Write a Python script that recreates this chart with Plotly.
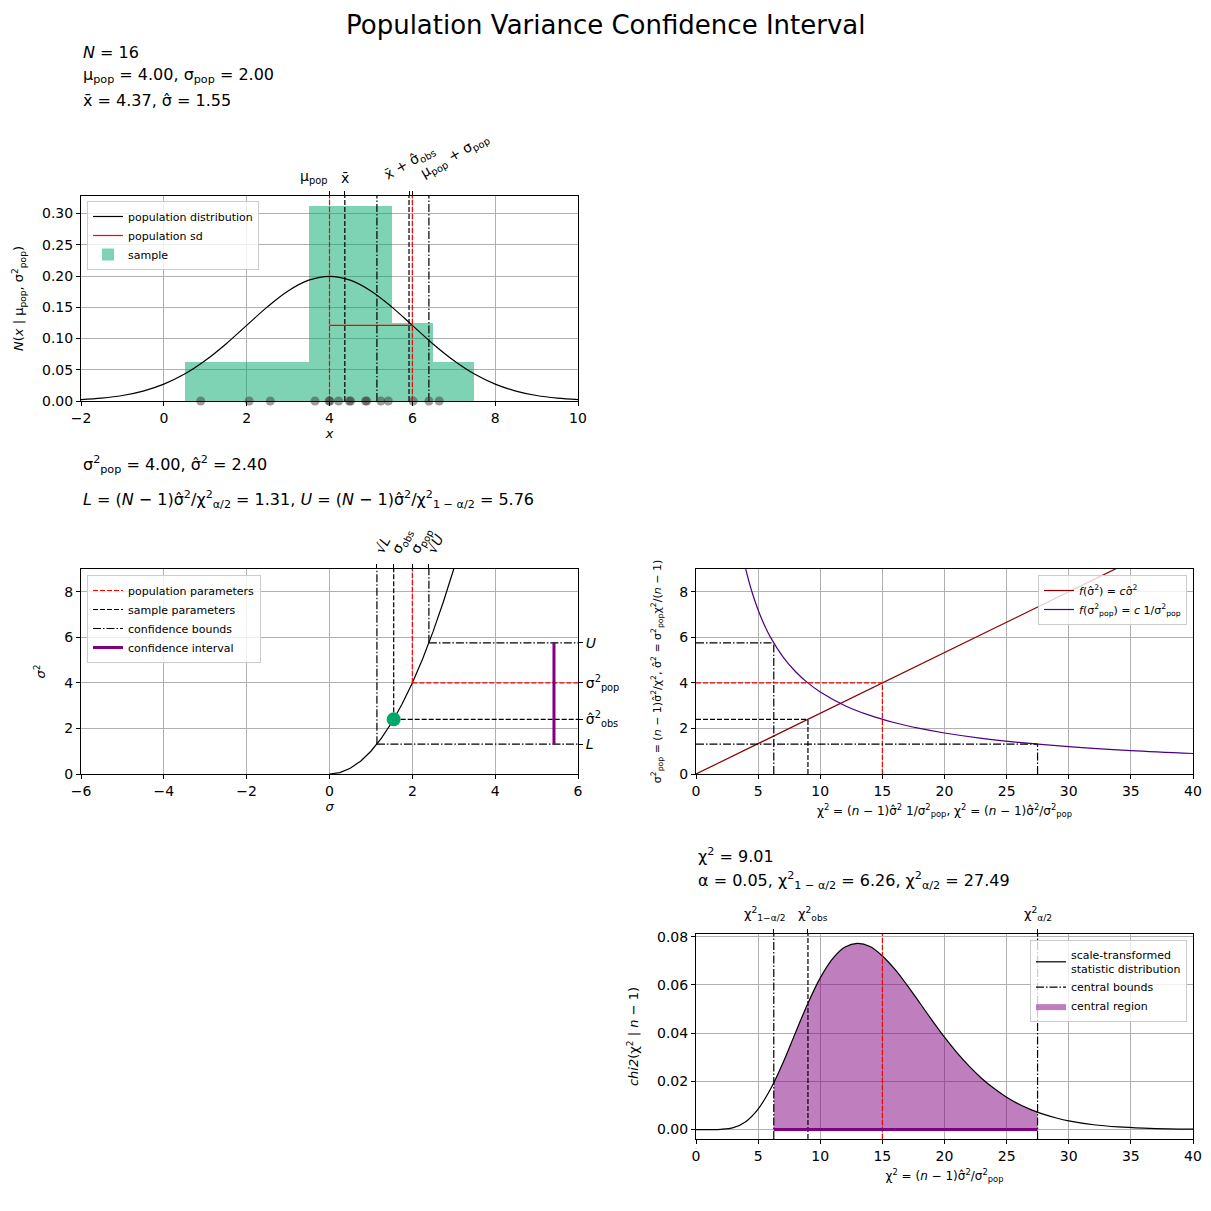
import plotly.graph_objects as go

# summary numbers shown on the chart
N = 16
mu_pop = 4.00
sigma_pop = 2.00
x_bar = 4.37
sigma_obs = 1.55
var_pop = 4.00
var_obs = 2.40
L = 1.31
U = 5.76
sqrt_L = 1.145
sqrt_U = 2.40
alpha = 0.05
chi_obs = 9.01
chi_lo = 6.26
chi_hi = 27.49
chi_pop = 15.0

# panel 1: sample, histogram and population density
samples = [0.89, 2.06, 2.57, 3.65, 3.99, 4.01, 4.22, 4.48, 4.51, 4.87, 4.90, 5.24, 5.42, 6.02, 6.40, 6.65]
hist_centers = [1, 2, 3, 4, 5, 6, 7]
hist_density = [0.0625, 0.0625, 0.0625, 0.3125, 0.3125, 0.125, 0.0625]
norm_x = [-2, -1.5, -1, -0.5, 0, 0.5, 1, 1.5, 2, 2.5, 3, 3.5, 4, 4.5, 5, 5.5, 6, 6.5, 7, 7.5, 8, 8.5, 9, 9.5, 10]
norm_y = [0.0022, 0.0046, 0.0088, 0.0159, 0.0270, 0.0431, 0.0648, 0.0913, 0.1210, 0.1506, 0.1760, 0.1933, 0.1995,
          0.1933, 0.1760, 0.1506, 0.1210, 0.0913, 0.0648, 0.0431, 0.0270, 0.0159, 0.0088, 0.0046, 0.0022]
sd_height = 0.121
bound_x1 = [5.145, 6.40]
p1_ymax = 0.328

# panel 2: sigma^2 against sigma
sig_x = [0, 0.25, 0.5, 0.75, 1, 1.25, 1.5, 1.75, 2, 2.25, 2.5, 2.75, 3]
sig_y = [0, 0.0625, 0.25, 0.5625, 1, 1.5625, 2.25, 3.0625, 4, 5.0625, 6.25, 7.5625, 9]
ci_x = 5.42

# panel 3: line and hyperbola
lin_x = [0, 40]
lin_y = [0, 10.667]
hyp_x = [4, 4.5, 5, 5.5, 6, 7, 8, 9, 10, 12, 14, 16, 18, 20, 23, 26, 30, 35, 40]
hyp_y = [9.0, 8.0, 7.2, 6.545, 6.0, 5.143, 4.5, 4.0, 3.6, 3.0, 2.571, 2.25, 2.0, 1.8, 1.565, 1.385, 1.2, 1.029, 0.9]

# panel 4: chi2 density, n-1 = 15
chi_x = list(range(0, 31)) + [32, 34, 36, 38, 40]
chi_y = [0.0, 0.0000, 0.0001, 0.0008, 0.0033, 0.0085, 0.0168, 0.0277, 0.0401, 0.0523, 0.0629, 0.0709, 0.0757, 0.0772,
         0.0759, 0.0720, 0.0665, 0.0598, 0.0526, 0.0453, 0.0383, 0.0319, 0.0262, 0.0212, 0.0170, 0.0134, 0.0105,
         0.0082, 0.0063, 0.0048, 0.0036, 0.0020, 0.0011, 0.0006, 0.0003, 0.0002]
chi_lo_pdf = 0.0194
chi_hi_pdf = 0.0072
p4_ymin, p4_ymax = -0.0039, 0.0811

region_x = [chi_lo] + [v for v in chi_x if chi_lo < v < chi_hi] + [chi_hi]
region_y = [chi_lo_pdf] + [p for v, p in zip(chi_x, chi_y) if chi_lo < v < chi_hi] + [chi_hi_pdf]

FONT = "DejaVu Sans"
DASH = "5px,2px"
DASHDOT = "8px,2px,1.5px,2px"
GREEN = "rgb(0,168,107)"

# page has an 8px body margin, so work in window pixels and convert
W, H = 1195, 1190


def fx(p):
    return (p - 8) / W


def fy(p):
    return 1 - (p - 8) / H


fig = go.Figure()


def seg(x, y, xa, ya, color="black", dash="solid", width=1.2, name=None, legend=None, rank=None):
    fig.add_trace(go.Scatter(
        x=x, y=y, xaxis=xa, yaxis=ya, mode="lines",
        line=dict(color=color, dash=dash, width=width),
        name=name, showlegend=name is not None, legend=legend,
        legendrank=rank if rank else 1000, hoverinfo="skip"))


# ---- panel 1
fig.add_trace(go.Bar(x=hist_centers, y=hist_density, width=1, xaxis="x", yaxis="y",
                     marker=dict(color="rgba(0,168,107,0.5)", line=dict(width=0)),
                     name="sample", legend="legend", legendrank=3))
fig.add_trace(go.Scatter(x=norm_x, y=norm_y, xaxis="x", yaxis="y", mode="lines",
                         line=dict(color="black", width=1.2, shape="spline"),
                         name="population distribution", legend="legend", legendrank=1))
seg([mu_pop, mu_pop + sigma_pop], [sd_height, sd_height], "x", "y", color="red",
    name="population sd", legend="legend", rank=2)
for v in [mu_pop, mu_pop + sigma_pop]:
    seg([v, v], [0, p1_ymax], "x", "y", color="red", dash=DASH)
for v in [x_bar, x_bar + sigma_obs]:
    seg([v, v], [0, p1_ymax], "x", "y", dash=DASH)
for v in bound_x1:
    seg([v, v], [0, p1_ymax], "x", "y", dash=DASHDOT)
fig.add_trace(go.Scatter(x=samples, y=[0] * len(samples), xaxis="x", yaxis="y", mode="markers",
                         marker=dict(color="rgba(60,60,60,0.5)", size=9, line=dict(width=0)),
                         showlegend=False, hoverinfo="skip", cliponaxis=False))

# ---- panel 2
seg(sig_x, sig_y, "x2", "y2")
seg([sqrt_L, sqrt_L], [L, 9], "x2", "y2", dash=DASHDOT, name="confidence bounds", legend="legend2", rank=3)
seg([sqrt_U, sqrt_U], [U, 9], "x2", "y2", dash=DASHDOT)
seg([sigma_obs, sigma_obs], [var_obs, 9], "x2", "y2", dash=DASH, name="sample parameters", legend="legend2", rank=2)
seg([sigma_pop, sigma_pop], [var_pop, 9], "x2", "y2", color="red", dash=DASH,
    name="population parameters", legend="legend2", rank=1)
seg([sqrt_U, 6], [U, U], "x2", "y2", dash=DASHDOT)
seg([sigma_pop, 6], [var_pop, var_pop], "x2", "y2", color="red", dash=DASH)
seg([sigma_obs, 6], [var_obs, var_obs], "x2", "y2", dash=DASH)
seg([sqrt_L, 6], [L, L], "x2", "y2", dash=DASHDOT)
seg([ci_x, ci_x], [L, U], "x2", "y2", color="purple", width=3, name="confidence interval", legend="legend2", rank=4)
fig.add_trace(go.Scatter(x=[sigma_obs], y=[var_obs], xaxis="x2", yaxis="y2", mode="markers",
                         marker=dict(color=GREEN, size=14), showlegend=False, hoverinfo="skip"))

# ---- panel 3
seg(lin_x, lin_y, "x3", "y3", color="darkred", name="<i>f</i>(σ̂<sup>2</sup>) = <i>c</i>σ̂<sup>2</sup>",
    legend="legend3", rank=1)
fig.add_trace(go.Scatter(x=hyp_x, y=hyp_y, xaxis="x3", yaxis="y3", mode="lines",
                         line=dict(color="indigo", width=1.2, shape="spline"),
                         name="<i>f</i>(σ<sup>2</sup><sub>pop</sub>) = <i>c</i> 1/σ<sup>2</sup><sub>pop</sub>",
                         legend="legend3", legendrank=2, hoverinfo="skip"))
seg([0, chi_lo], [U, U], "x3", "y3", dash=DASHDOT)
seg([chi_lo, chi_lo], [0, U], "x3", "y3", dash=DASHDOT)
seg([0, chi_obs], [var_obs, var_obs], "x3", "y3", dash=DASH)
seg([chi_obs, chi_obs], [0, var_obs], "x3", "y3", dash=DASH)
seg([0, chi_pop], [var_pop, var_pop], "x3", "y3", color="red", dash=DASH)
seg([chi_pop, chi_pop], [0, var_pop], "x3", "y3", color="red", dash=DASH)
seg([0, chi_hi], [L, L], "x3", "y3", dash=DASHDOT)
seg([chi_hi, chi_hi], [0, L], "x3", "y3", dash=DASHDOT)

# ---- panel 4
fig.add_trace(go.Scatter(x=region_x, y=region_y, xaxis="x4", yaxis="y4", mode="lines", fill="tozeroy",
                         fillcolor="rgba(128,0,128,0.5)", line=dict(width=0, shape="spline"),
                         name="central region", legend="legend4", legendrank=3, hoverinfo="skip"))
fig.add_trace(go.Scatter(x=chi_x, y=chi_y, xaxis="x4", yaxis="y4", mode="lines",
                         line=dict(color="black", width=1.2, shape="spline"),
                         name="scale-transformed<br>statistic distribution", legend="legend4", legendrank=1,
                         hoverinfo="skip"))
seg([chi_lo, chi_lo], [p4_ymin, p4_ymax], "x4", "y4", dash=DASHDOT, name="central bounds", legend="legend4", rank=2)
seg([chi_hi, chi_hi], [p4_ymin, p4_ymax], "x4", "y4", dash=DASHDOT)
seg([chi_obs, chi_obs], [p4_ymin, p4_ymax], "x4", "y4", dash=DASH)
seg([chi_pop, chi_pop], [p4_ymin, p4_ymax], "x4", "y4", color="red", dash=DASH)
seg([chi_lo, chi_hi], [0, 0], "x4", "y4", color="purple", width=3)

# invisible anchors so the extra tick axes get drawn
for xa, ya in [("x5", "y"), ("x6", "y2"), ("x2", "y5"), ("x7", "y4")]:
    fig.add_trace(go.Scatter(x=[mu_pop if xa == "x5" else sigma_pop], y=[var_pop if ya == "y5" else 0],
                             xaxis=xa, yaxis=ya, mode="markers", marker=dict(opacity=0),
                             showlegend=False, hoverinfo="skip"))

X_LEFT = [fx(81), fx(578)]
X_RIGHT = [fx(696), fx(1193)]
Y_TOP = [fy(401), fy(196)]
Y_MID = [fy(774), fy(569)]
Y_BOT = [fy(1139), fy(934)]

base = dict(showline=True, mirror=True, linecolor="black", linewidth=1, ticks="outside", ticklen=4,
            tickcolor="black", showgrid=True, gridcolor="#b0b0b0", gridwidth=0.8, zeroline=False,
            tickfont=dict(size=14), automargin=False, fixedrange=True)
title_font = dict(size=13)


def ax(**kw):
    d = dict(base)
    d.update(kw)
    return d


fig.update_layout(
    width=W, height=H, margin=dict(l=0, r=0, t=0, b=0),
    paper_bgcolor="white", plot_bgcolor="white",
    font=dict(family=FONT, color="black", size=13),
    bargap=0, barmode="overlay", showlegend=True,
    xaxis=ax(domain=X_LEFT, anchor="y", range=[-2, 10], dtick=2,
             title=dict(text="<i>x</i>", font=title_font, standoff=2)),
    yaxis=ax(domain=Y_TOP, anchor="x", range=[0, p1_ymax], dtick=0.05, tickformat=".2f",
             title=dict(text="<i>N</i>(<i>x</i> | μ<sub>pop</sub>, σ<sup>2</sup><sub>pop</sub>)", font=title_font)),
    xaxis2=ax(domain=X_LEFT, anchor="y2", range=[-6, 6], dtick=2,
              title=dict(text="<i>σ</i>", font=title_font, standoff=2)),
    yaxis2=ax(domain=Y_MID, anchor="x2", range=[0, 9], dtick=2,
              title=dict(text="<i>σ</i><sup>2</sup>", font=title_font)),
    xaxis3=ax(domain=X_RIGHT, anchor="y3", range=[0, 40], dtick=5,
              title=dict(text="χ<sup>2</sup> = (<i>n</i> − 1)σ̂<sup>2</sup> 1/σ<sup>2</sup><sub>pop</sub>, "
                              "χ<sup>2</sup> = (<i>n</i> − 1)σ̂<sup>2</sup>/σ<sup>2</sup><sub>pop</sub>",
                         font=dict(size=12), standoff=8)),
    yaxis3=ax(domain=Y_MID, anchor="x3", range=[0, 9], dtick=2,
              title=dict(text="σ<sup>2</sup><sub>pop</sub> = (<i>n</i> − 1)σ̂<sup>2</sup>/χ<sup>2</sup>, "
                              "σ̂<sup>2</sup> = σ<sup>2</sup><sub>pop</sub>χ<sup>2</sup>/(<i>n</i> − 1)",
                         font=dict(size=11))),
    xaxis4=ax(domain=X_RIGHT, anchor="y4", range=[0, 40], dtick=5,
              title=dict(text="χ<sup>2</sup> = (<i>n</i> − 1)σ̂<sup>2</sup>/σ<sup>2</sup><sub>pop</sub>",
                         font=dict(size=12), standoff=8)),
    yaxis4=ax(domain=Y_BOT, anchor="x4", range=[p4_ymin, p4_ymax], dtick=0.02, tickformat=".2f",
              title=dict(text="<i>chi2</i>(χ<sup>2</sup> | <i>n</i> − 1)", font=title_font)),
    xaxis5=dict(overlaying="x", anchor="y", side="top", range=[-2, 10], showgrid=False, zeroline=False,
                tickvals=[mu_pop, x_bar, x_bar + sigma_obs, mu_pop + sigma_pop], showticklabels=False,
                ticks="outside", ticklen=4, tickcolor="black", fixedrange=True),
    xaxis6=dict(overlaying="x2", anchor="y2", side="top", range=[-6, 6], showgrid=False, zeroline=False,
                tickvals=[sqrt_L, sigma_obs, sigma_pop, sqrt_U],
                ticktext=["√<i>L</i>", "σ<sub>obs</sub>", "σ<sub>pop</sub>", "√<i>U</i>"],
                tickangle=-62, tickfont=dict(size=14), ticks="outside", ticklen=4, tickcolor="black",
                fixedrange=True, automargin=False),
    yaxis5=dict(overlaying="y2", anchor="x2", side="right", range=[0, 9], showgrid=False, zeroline=False,
                tickvals=[U, var_pop, var_obs, L],
                ticktext=["<i>U</i>", "σ<sup>2</sup><sub>pop</sub>", "σ̂<sup>2</sup><sub>obs</sub>", "<i>L</i>"],
                tickfont=dict(size=14), ticks="outside", ticklen=4, tickcolor="black",
                fixedrange=True, automargin=False),
    xaxis7=dict(overlaying="x4", anchor="y4", side="top", range=[0, 40], showgrid=False, zeroline=False,
                tickvals=[chi_lo, chi_obs, chi_hi], showticklabels=False,
                ticks="outside", ticklen=4, tickcolor="black", fixedrange=True),
)

leg = dict(bgcolor="rgba(255,255,255,0.8)", bordercolor="#cccccc", borderwidth=1,
           font=dict(size=11), tracegroupgap=0, itemwidth=30)
fig.update_layout(
    legend=dict(leg, x=fx(87), y=fy(201), xanchor="left", yanchor="top"),
    legend2=dict(leg, x=fx(87), y=fy(575), xanchor="left", yanchor="top"),
    legend3=dict(leg, x=fx(1187), y=fy(575), xanchor="right", yanchor="top"),
    legend4=dict(leg, x=fx(1187), y=fy(940), xanchor="right", yanchor="top"),
)

# figure title
fig.add_annotation(text="Population Variance Confidence Interval", xref="paper", yref="paper",
                   x=fx(605), y=1, xanchor="center", yanchor="top", showarrow=False, font=dict(size=26))

# text blocks
info = [
    ("<i>N</i> = 16", 81, 53),
    ("μ<sub>pop</sub> = 4.00, σ<sub>pop</sub> = 2.00", 81, 75),
    ("x̄ = 4.37, σ̂ = 1.55", 81, 101),
    ("σ<sup>2</sup><sub>pop</sub> = 4.00, σ̂<sup>2</sup> = 2.40", 81, 465),
    ("<i>L</i> = (<i>N</i> − 1)σ̂<sup>2</sup>/χ<sup>2</sup><sub>α/2</sub> = 1.31, "
     "<i>U</i> = (<i>N</i> − 1)σ̂<sup>2</sup>/χ<sup>2</sup><sub>1 − α/2</sub> = 5.76", 81, 500),
    ("χ<sup>2</sup> = 9.01", 696, 855),
    ("α = 0.05, χ<sup>2</sup><sub>1 − α/2</sub> = 6.26, χ<sup>2</sup><sub>α/2</sub> = 27.49", 696, 881),
]
for txt, px, py in info:
    fig.add_annotation(text=txt, xref="paper", yref="paper", x=fx(px), y=fy(py),
                       xanchor="left", yanchor="middle", showarrow=False, font=dict(size=16))

# labels over panel 1
top1 = fy(196)
fig.add_annotation(text="μ<sub>pop</sub>", xref="x", yref="paper", x=mu_pop, y=top1, xanchor="right",
                   yanchor="bottom", yshift=8, xshift=-1, showarrow=False, font=dict(size=14))
fig.add_annotation(text="x̄", xref="x", yref="paper", x=x_bar, y=top1, xanchor="center",
                   yanchor="bottom", yshift=8, showarrow=False, font=dict(size=14))
fig.add_annotation(text="x̄ + σ̂<sub>obs</sub>", xref="x", yref="paper", x=x_bar + sigma_obs, y=top1,
                   xanchor="center", yanchor="bottom", yshift=9, textangle=-30, showarrow=False,
                   font=dict(size=14))
fig.add_annotation(text="μ<sub>pop</sub> + σ<sub>pop</sub>", xref="x", yref="paper", x=mu_pop + sigma_pop,
                   y=top1, xanchor="left", yanchor="bottom", yshift=11, xshift=2, textangle=-30,
                   showarrow=False, font=dict(size=14))

# labels over panel 4
top4 = fy(934)
for txt, v, anchor, shift in [("χ<sup>2</sup><sub>1−α/2</sub>", chi_lo, "right", 14),
                              ("χ<sup>2</sup><sub>obs</sub>", chi_obs, "left", -12),
                              ("χ<sup>2</sup><sub>α/2</sub>", chi_hi, "center", 0)]:
    fig.add_annotation(text=txt, xref="x4", yref="paper", x=v, y=top4, xanchor=anchor, xshift=shift,
                       yanchor="bottom", yshift=9, showarrow=False, font=dict(size=13))

fig.write_html("out.html")
